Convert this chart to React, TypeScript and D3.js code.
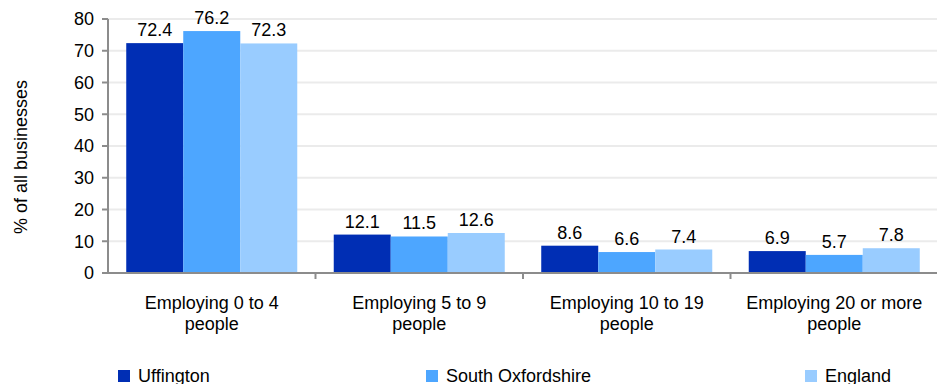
import React from "react";
import * as d3 from "d3";

const categories = ["Employing 0 to 4|people", "Employing 5 to 9|people", "Employing 10 to 19|people", "Employing 20 or more|people"];
const seriesNames = ["Uffington", "South Oxfordshire", "England"];
const uffington = [72.4, 12.1, 8.6, 6.9];
const southOxfordshire = [76.2, 11.5, 6.6, 5.7];
const england = [72.3, 12.6, 7.4, 7.8];
const yTicks = [0, 10, 20, 30, 40, 50, 60, 70, 80];
const colors = ["#002EB4", "#4DA6FF", "#99CCFF"];
const legendX = [118, 426, 805];

const W = 937;
const H = 384;
const FONT = "'Liberation Sans', Arial, sans-serif";

export default function App() {
  const values = [uffington, southOxfordshire, england];
  const x0 = d3.scaleBand<string>().domain(categories).range([108, 938]).paddingInner(0).paddingOuter(0);
  const x1 = d3.scaleBand<string>().domain(seriesNames).range([0, x0.bandwidth()]).paddingInner(0).paddingOuter(0.32);
  const y = d3.scaleLinear().domain([0, 80]).range([273, 19]);
  const left = 108;
  const right = 937;

  return (
    <div style={{ position: "absolute", left: 0, top: 0 }}>
      <svg width={W} height={H} style={{ display: "block", fontFamily: FONT }}>
        <rect x={0} y={0} width={W} height={H} fill="#fff" />
        {yTicks.filter((t) => t > 0).map((t) => (
          <line key={"g" + t} x1={left} x2={right} y1={y(t)} y2={y(t)} stroke="#EBEBEB" strokeWidth={2} />
        ))}
        {categories.map((c, ci) =>
          seriesNames.map((s, si) => {
            const v = values[si][ci];
            const bx = (x0(c) as number) + (x1(s) as number);
            return (
              <g key={c + s}>
                <rect x={bx} y={y(v)} width={x1.bandwidth()} height={y(0) - y(v)} fill={colors[si]} />
                <text x={bx + x1.bandwidth() / 2} y={y(v) - 7} textAnchor="middle" fontSize={18} fill="#000">
                  {v.toFixed(1)}
                </text>
              </g>
            );
          })
        )}
        {/* y axis */}
        <line x1={left} x2={left} y1={y(80)} y2={y(0) + 1} stroke="#8C8C8C" strokeWidth={2} />
        {yTicks.map((t) => (
          <g key={"t" + t}>
            <line x1={left - 6} x2={left} y1={y(t)} y2={y(t)} stroke="#8C8C8C" strokeWidth={2} />
            <text x={left - 14} y={y(t)} dy="0.35em" textAnchor="end" fontSize={18} fill="#000">
              {t}
            </text>
          </g>
        ))}
        {/* x axis */}
        <line x1={left} x2={right} y1={y(0)} y2={y(0)} stroke="#8C8C8C" strokeWidth={2} />
        {categories.map((c) => (
          <line key={"xt" + c} x1={(x0(c) as number) + x0.bandwidth()} x2={(x0(c) as number) + x0.bandwidth()} y1={y(0)} y2={y(0) + 6} stroke="#8C8C8C" strokeWidth={2} />
        ))}
        {categories.map((c) => {
          const lines = c.split("|");
          const cx = (x0(c) as number) + x0.bandwidth() / 2;
          return (
            <text key={"cl" + c} x={cx} y={309} textAnchor="middle" fontSize={18} fill="#000">
              {lines.map((l, i) => (
                <tspan key={i} x={cx} dy={i === 0 ? 0 : 21}>
                  {l}
                </tspan>
              ))}
            </text>
          );
        })}
        <text transform={`translate(27,157) rotate(-90)`} textAnchor="middle" fontSize={18} fill="#000">
          % of all businesses
        </text>
        {seriesNames.map((s, i) => (
          <g key={"lg" + s}>
            <rect x={legendX[i]} y={370} width={12} height={12} fill={colors[i]} />
            <text x={legendX[i] + 20} y={382} fontSize={18} fill="#000">
              {s}
            </text>
          </g>
        ))}
      </svg>
    </div>
  );
}
